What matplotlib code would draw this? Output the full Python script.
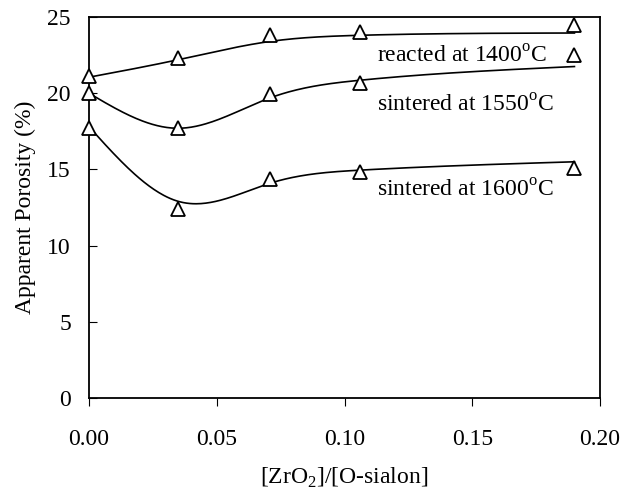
import numpy as np
import matplotlib.pyplot as plt

plt.rcParams['font.family'] = 'Liberation Serif'
plt.rcParams['mathtext.fontset'] = 'custom'
plt.rcParams['mathtext.rm'] = 'Liberation Serif'
plt.rcParams['font.size'] = 17

ratio = [0.0, 0.035, 0.071, 0.106, 0.19]
reacted_1400 = [21.1, 22.3, 23.8, 24.0, 24.5]
sintered_1550 = [20.0, 17.7, 19.95, 20.7, 22.5]
sintered_1600 = [17.7, 12.4, 14.4, 14.8, 15.1]

# smoothed trend values at the same ratios
trend_1400 = [21.05, 22.2, 23.4, 23.8, 23.95]
trend_1550 = [20.0, 17.7, 19.7, 20.85, 21.75]
trend_1600 = [17.8, 12.9, 14.1, 14.95, 15.5]

series = [
    (reacted_1400, trend_1400, 'reacted at 1400$^{\\mathrm{o}}$C', 21.98),
    (sintered_1550, trend_1550, 'sintered at 1550$^{\\mathrm{o}}$C', 18.77),
    (sintered_1600, trend_1600, 'sintered at 1600$^{\\mathrm{o}}$C', 13.19),
]


def natural_spline(x, y, xs):
    x = np.asarray(x, float)
    y = np.asarray(y, float)
    n = len(x)
    h = np.diff(x)
    A = np.zeros((n, n))
    b = np.zeros(n)
    A[0, 0] = A[-1, -1] = 1.0
    for i in range(1, n - 1):
        A[i, i - 1] = h[i - 1]
        A[i, i] = 2 * (h[i - 1] + h[i])
        A[i, i + 1] = h[i]
        b[i] = 6 * ((y[i + 1] - y[i]) / h[i] - (y[i] - y[i - 1]) / h[i - 1])
    m = np.linalg.solve(A, b)
    idx = np.clip(np.searchsorted(x, xs) - 1, 0, n - 2)
    t0, t1 = x[idx], x[idx + 1]
    hh = t1 - t0
    a = (t1 - xs) / hh
    c = (xs - t0) / hh
    return (a * y[idx] + c * y[idx + 1]
            + ((a ** 3 - a) * m[idx] + (c ** 3 - c) * m[idx + 1]) * hh ** 2 / 6)


fig = plt.figure(figsize=(6.25, 4.96), dpi=100)
ax = fig.add_axes([0.1424, 0.1976, 0.8176, 0.7681])

xs = np.linspace(0, 0.19, 300)
for vals, trend, label, ty in series:
    ax.plot(xs, natural_spline(ratio, trend, xs), color='black', lw=1.2, zorder=2)
    ax.plot(ratio, vals, linestyle='none', marker='^', markersize=10,
            markerfacecolor='white', markeredgecolor='black', markeredgewidth=1.3,
            zorder=3, clip_on=False)
    ax.text(0.1126, ty, label, fontsize=17, va='baseline', ha='left')

ax.set_xlim(0, 0.2)
ax.set_ylim(0, 25)
ax.set_xticks(np.arange(0, 0.201, 0.05))
ax.set_xticklabels(['0.00', '0.05', '0.10', '0.15', '0.20'])
ax.set_yticks(range(0, 26, 5))
ax.tick_params(axis='y', direction='in', length=6, pad=13, labelsize=17)
ax.tick_params(axis='x', direction='out', length=6, pad=16, labelsize=17)
for s in ax.spines.values():
    s.set_linewidth(1.3)

ax.set_xlabel('[ZrO$_2$]/[O-sialon]', fontsize=17, labelpad=12)
ax.set_ylabel('Apparent Porosity (%)', fontsize=17, labelpad=8)

fig.savefig('out.png', dpi=100)
